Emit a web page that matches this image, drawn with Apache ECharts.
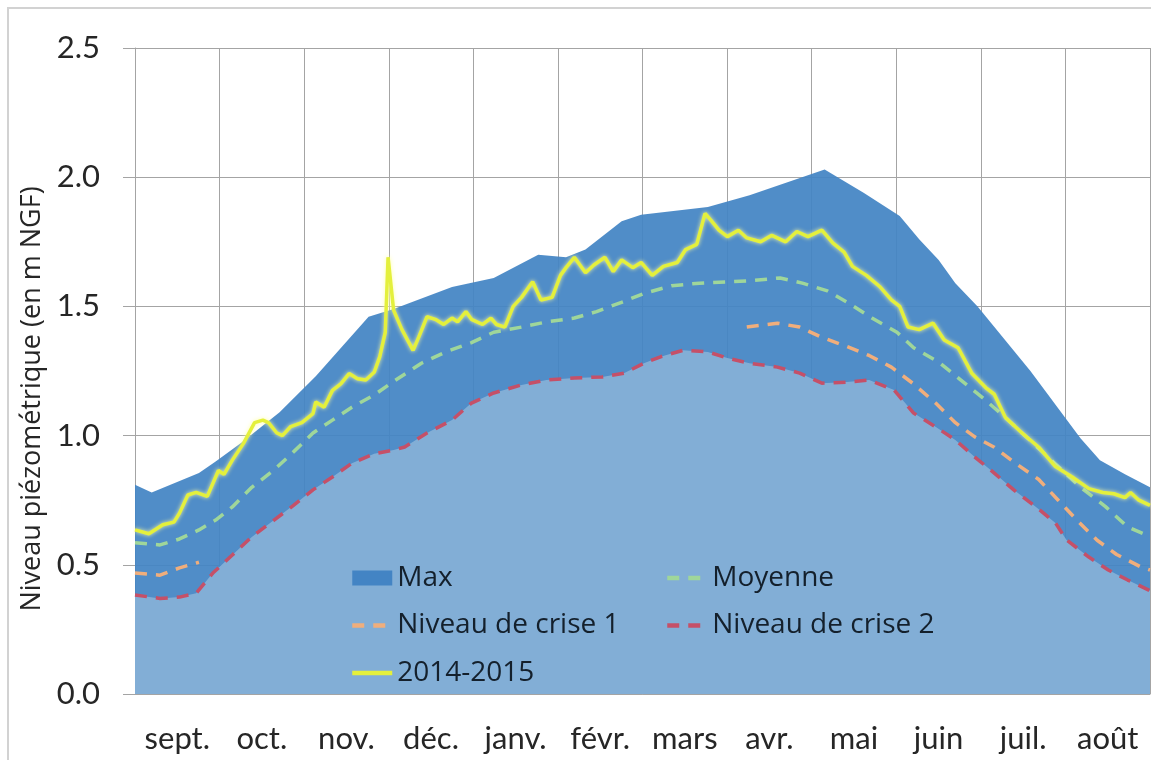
<!DOCTYPE html>
<html>
<head>
<meta charset="utf-8">
<script src="https://cdn.jsdelivr.net/npm/echarts@6.0.0/dist/echarts.min.js"></script>
<style>
  html, body { margin: 0; padding: 0; background: #fff; }
  #chart { width: 1151px; height: 760px; }
</style>
</head>
<body>
<div id="chart"></div>
<script>
// mois de l'année hydrologique (sept. -> août)
var months = ['sept.', 'oct.', 'nov.', 'déc.', 'janv.', 'févr.', 'mars', 'avr.', 'mai', 'juin', 'juil.', 'août'];

// [jour depuis le 1er septembre, niveau en m NGF]
var maxPts = [[0, 0.81], [6, 0.78], [23, 0.855], [29, 0.90], [38, 0.97], [52, 1.09], [65, 1.23], [84, 1.46], [93, 1.49],
  [114, 1.575], [129, 1.61], [145, 1.70], [155, 1.69], [162, 1.72], [175, 1.83], [182, 1.855], [206, 1.885], [221, 1.93],
  [248, 2.03], [262, 1.94], [275, 1.85], [282, 1.76], [289, 1.68], [295, 1.59], [303, 1.50], [322, 1.25], [340, 0.99],
  [347, 0.905], [356, 0.85], [365, 0.80]];

var moyennePts = [[0, 0.585], [9, 0.577], [16, 0.60], [23, 0.635], [29, 0.673], [35, 0.724], [42, 0.80], [50, 0.867],
  [57, 0.937], [64, 1.01], [71, 1.06], [78, 1.11], [86, 1.157], [93, 1.21], [103, 1.28], [112, 1.325], [121, 1.36],
  [129, 1.40], [139, 1.42], [148, 1.44], [158, 1.455], [166, 1.48], [176, 1.52], [183, 1.55], [193, 1.58], [203, 1.59],
  [213, 1.595], [222, 1.60], [232, 1.61], [240, 1.59], [249, 1.56], [257, 1.51], [265, 1.455], [274, 1.40], [280, 1.34],
  [289, 1.285], [297, 1.215], [305, 1.145], [314, 1.06], [323, 0.97], [332, 0.88], [340, 0.80], [349, 0.725],
  [357, 0.646], [365, 0.61]];

var crise1Pts = [[0, 0.468], [9, 0.46], [16, 0.488], [23, 0.51], [24, '-'],
  [220, 1.42], [231, 1.435], [239, 1.42], [247, 1.38], [256, 1.345], [264, 1.31], [272, 1.265], [280, 1.20], [288, 1.125],
  [295, 1.05], [302, 0.995], [309, 0.955], [317, 0.89], [325, 0.83], [332, 0.75], [339, 0.67], [346, 0.595],
  [353, 0.54], [362, 0.49], [365, 0.48]];

var crise2Pts = [[0, 0.383], [9, 0.37], [16, 0.375], [22, 0.39], [28, 0.468], [35, 0.538], [42, 0.608], [50, 0.673],
  [57, 0.73], [64, 0.79], [71, 0.84], [78, 0.893], [86, 0.93], [93, 0.944], [97, 0.956], [105, 1.01], [114, 1.06],
  [121, 1.126], [129, 1.165], [139, 1.196], [148, 1.215], [158, 1.223], [168, 1.227], [176, 1.242], [183, 1.28],
  [189, 1.305], [197, 1.33], [206, 1.324], [213, 1.30], [221, 1.28], [231, 1.265], [239, 1.242], [247, 1.203],
  [256, 1.207], [264, 1.215], [273, 1.176], [280, 1.087], [288, 1.033], [295, 0.983], [302, 0.917], [309, 0.855],
  [316, 0.79], [324, 0.724], [331, 0.662], [335, 0.596], [343, 0.53], [350, 0.48], [357, 0.441], [365, 0.40]];

var annee2015Pts = [[0, 0.635], [5, 0.62], [10, 0.655], [14, 0.665], [16, 0.70], [19, 0.77], [22, 0.78], [26, 0.765],
  [28, 0.815], [30, 0.865], [32, 0.85], [35, 0.905], [39, 0.97], [43, 1.05], [46, 1.06], [48, 1.05], [51, 1.01],
  [53, 1.00], [56, 1.035], [60, 1.05], [64, 1.085], [65, 1.13], [68, 1.11], [71, 1.175], [74, 1.20], [77, 1.24],
  [80, 1.22], [83, 1.215], [86, 1.245], [88, 1.305], [90, 1.40], [91, 1.69], [93, 1.485], [96, 1.41], [100, 1.33],
  [102, 1.38], [105, 1.46], [108, 1.45], [111, 1.43], [114, 1.455], [116, 1.44], [119, 1.48], [121, 1.45], [125, 1.43],
  [128, 1.455], [130, 1.43], [133, 1.42], [136, 1.50], [139, 1.535], [143, 1.595], [146, 1.525], [150, 1.535],
  [153, 1.62], [155, 1.65], [158, 1.69], [162, 1.63], [165, 1.66], [169, 1.69], [172, 1.635], [175, 1.68], [179, 1.65],
  [182, 1.67], [186, 1.62], [190, 1.655], [195, 1.67], [198, 1.72], [202, 1.74], [205, 1.86], [207, 1.835],
  [210, 1.795], [213, 1.77], [217, 1.795], [220, 1.765], [225, 1.75], [229, 1.775], [234, 1.75], [238, 1.79],
  [242, 1.77], [247, 1.795], [251, 1.745], [255, 1.71], [258, 1.655], [263, 1.62], [268, 1.575], [272, 1.525],
  [275, 1.50], [278, 1.42], [282, 1.41], [287, 1.435], [291, 1.37], [296, 1.34], [301, 1.24], [306, 1.185],
  [309, 1.16], [313, 1.07], [319, 1.01], [325, 0.955], [331, 0.88], [337, 0.84], [343, 0.795], [348, 0.78],
  [352, 0.775], [356, 0.76], [358, 0.78], [361, 0.75], [365, 0.73]];

var chart = echarts.init(document.getElementById('chart'));
var font = 'Lato, "Liberation Sans", sans-serif';
var legendFont = '"Open Sans", Lato, sans-serif';
var gridColor = '#a4a4a4';
var textColor = '#262626';

var legendBase = {
  orient: 'vertical',
  top: 559,
  itemWidth: 40,
  itemHeight: 15,
  itemGap: 19.5,
  // pas de pastille sur les icônes de ligne
  itemStyle: { opacity: 0 },
  lineStyle: { width: 4.5 },
  textStyle: { fontFamily: legendFont, fontSize: 28, color: '#14202c' }
};

var option = {
  backgroundColor: '#fff',
  animation: false,
  textStyle: { fontFamily: font },
  graphic: [{
    type: 'rect', silent: true, z: -10,
    shape: { x: 8, y: 8, width: 1200, height: 800 },
    style: { fill: 'none', stroke: '#d2d2d2', lineWidth: 2 }
  }],
  grid: { left: 135, right: 1, top: 48, bottom: 66 },
  legend: [
    echarts.util.merge({
      left: 345,
      data: [{ name: 'Max', icon: 'rect', itemStyle: { opacity: 1 } }, 'Niveau de crise 1', '2014-2015']
    }, legendBase),
    echarts.util.merge({ left: 660, data: ['Moyenne', 'Niveau de crise 2'] }, legendBase)
  ],
  xAxis: [
    { type: 'value', min: 0, max: 365, show: false, position: 'bottom' },
    {
      type: 'category', data: months, boundaryGap: true, position: 'bottom',
      axisLine: { lineStyle: { color: gridColor } },
      axisTick: { length: 12, lineStyle: { color: gridColor } },
      splitLine: { show: true, lineStyle: { color: gridColor } },
      axisLabel: { interval: 0, color: textColor, fontSize: 31, margin: 29 }
    }
  ],
  yAxis: {
    type: 'value', min: 0, max: 2.5, interval: 0.5,
    name: 'Niveau piézométrique (en m NGF)',
    nameLocation: 'middle', nameGap: 88,
    nameTextStyle: { fontFamily: legendFont, fontSize: 27, color: textColor, padding: [0, 56, 0, 0] },
    axisLine: { show: true, lineStyle: { color: gridColor } },
    axisTick: { show: true, length: 12, lineStyle: { color: gridColor } },
    splitLine: { lineStyle: { color: gridColor } },
    axisLabel: {
      color: textColor, fontSize: 31, margin: 35,
      formatter: function (v) { return v.toFixed(1); }
    }
  },
  series: [
    {
      name: 'Max', type: 'line', data: maxPts, symbol: 'none',
      lineStyle: { width: 0 }, itemStyle: { color: '#4384c4' },
      areaStyle: { color: '#4384c4', opacity: 0.93 }
    },
    {
      name: 'Niveau de crise 2', type: 'line', data: crise2Pts, symbol: 'none',
      lineStyle: { color: '#c55068', width: 3.5, type: [12, 9] }, itemStyle: { color: '#c55068' },
      areaStyle: { color: '#86b0d7', opacity: 0.93 }
    },
    {
      name: 'Moyenne', type: 'line', data: moyennePts, symbol: 'none',
      lineStyle: { color: '#9fd69a', width: 3.5, type: [12, 9] }, itemStyle: { color: '#9fd69a' }
    },
    {
      name: 'Niveau de crise 1', type: 'line', data: crise1Pts, symbol: 'none',
      lineStyle: { color: '#f0ae7c', width: 3.5, type: [12, 9] }, itemStyle: { color: '#f0ae7c' }
    },
    {
      name: '2014-2015', type: 'line', data: annee2015Pts, symbol: 'none',
      lineStyle: { color: '#e4f03c', width: 3.5, shadowColor: 'rgba(255,255,160,0.9)', shadowBlur: 4 },
      itemStyle: { color: '#e4f03c' }
    }
  ]
};

chart.setOption(option);
</script>
</body>
</html>
